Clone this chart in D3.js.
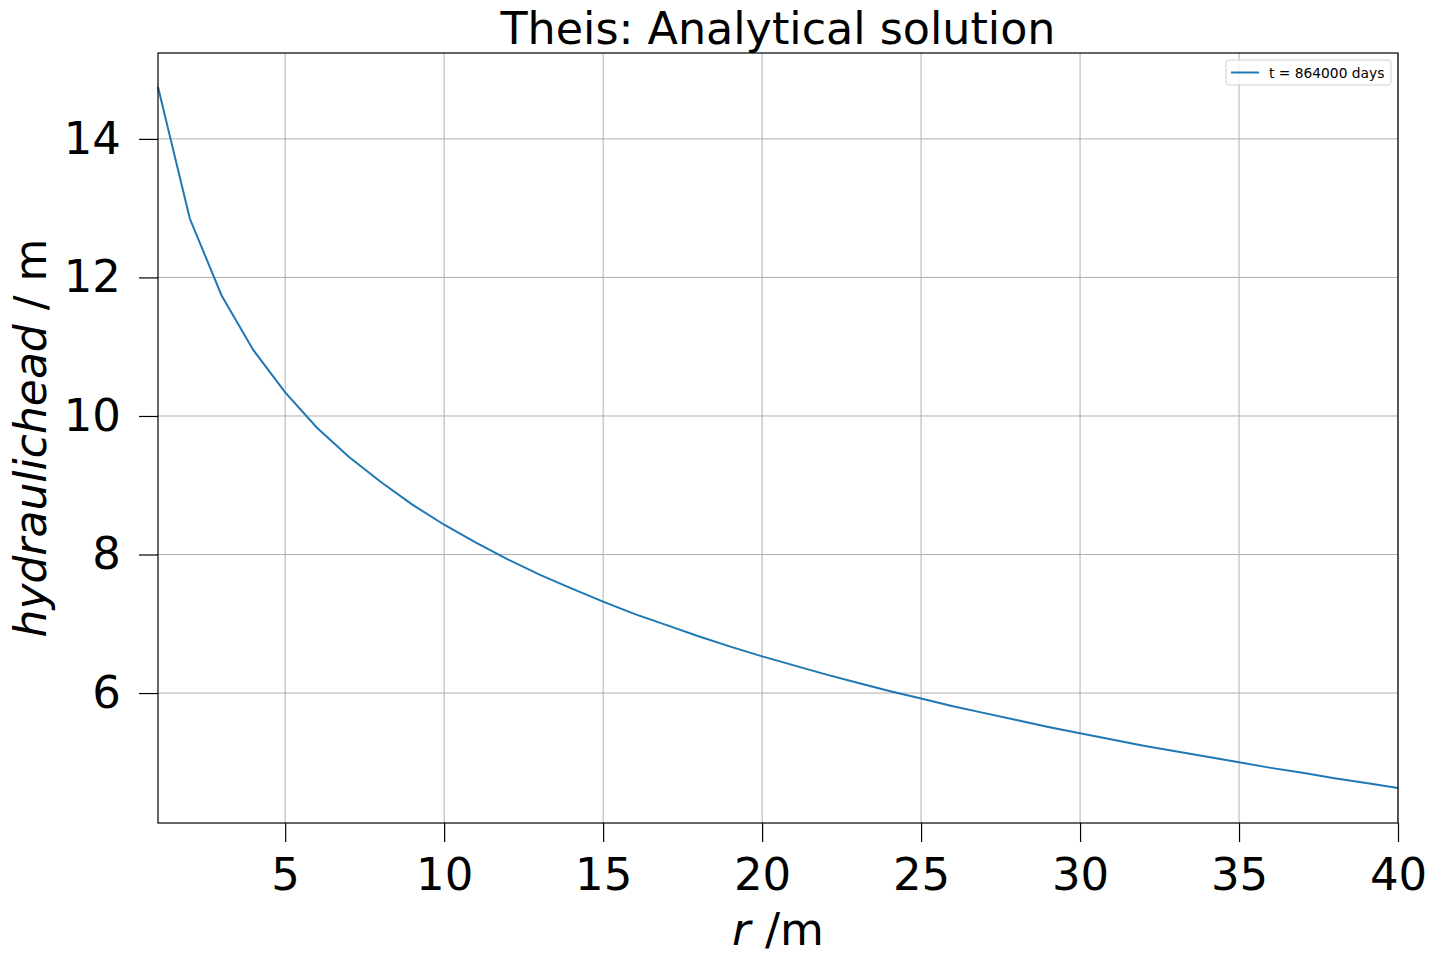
<!DOCTYPE html>
<html><head><meta charset="utf-8">
<script src="https://cdn.jsdelivr.net/npm/d3@7"></script>
<style>body{margin:0;background:#fff;} text{font-family:"DejaVu Sans",sans-serif;}</style>
</head><body>
<svg id="c" width="1436" height="963"></svg>
<script>
const radius = [1,2,3,4,5,6,7,8,9,10,11,12,13,14,15,16,17,18,19,20,21,22,23,24,25,26,27,28,29,30,31,32,33,34,35,36,37,38,39,40];
const head = [14.75,12.85,11.74,10.95,10.34,9.83,9.41,9.05,8.72,8.43,8.17,7.93,7.71,7.51,7.32,7.14,6.98,6.82,6.67,6.53,6.40,6.27,6.15,6.03,5.92,5.81,5.71,5.61,5.51,5.42,5.33,5.24,5.16,5.08,5.00,4.92,4.85,4.77,4.70,4.63];
const xTicks = [5,10,15,20,25,30,35,40];
const yTicks = [6,8,10,12,14];
const seriesLabel = "t = 864000 days";

const svg = d3.select("#c");
const L=158, R=1398, T=53, B=823;
const x = d3.scaleLinear().domain([1,40]).range([L,R]);
const y = d3.scaleLinear().domain([4.124,15.24]).range([B,T]);

// grid
svg.append("g").selectAll("line").data(xTicks).join("line")
  .attr("x1",d=>x(d)).attr("x2",d=>x(d)).attr("y1",T).attr("y2",B)
  .attr("stroke","#b0b0b0").attr("stroke-width",1);
svg.append("g").selectAll("line").data(yTicks).join("line")
  .attr("y1",d=>y(d)).attr("y2",d=>y(d)).attr("x1",L).attr("x2",R)
  .attr("stroke","#b0b0b0").attr("stroke-width",1);

// line
svg.append("path").datum(radius.map((r,i)=>[r,head[i]]))
  .attr("d",d3.line().x(d=>x(d[0])).y(d=>y(d[1])))
  .attr("fill","none").attr("stroke","#1f77b4").attr("stroke-width",2);

// axes
const xa = svg.append("g").attr("transform",`translate(0,${B})`)
  .call(d3.axisBottom(x).tickValues(xTicks).tickSize(19).tickPadding(16).tickFormat(d3.format("d")));
const ya = svg.append("g").attr("transform",`translate(${L},0)`)
  .call(d3.axisLeft(y).tickValues(yTicks).tickSize(19).tickPadding(18).tickFormat(d3.format("d")));
[xa,ya].forEach(a=>{
  a.select(".domain").remove();
  a.selectAll("line").attr("stroke","#000").attr("stroke-width",1.2);
  a.selectAll("text").attr("font-size",45).attr("fill","#000").style("font-family","DejaVu Sans");
});

// frame
svg.append("rect").attr("x",L).attr("y",T).attr("width",R-L).attr("height",B-T)
  .attr("fill","none").attr("stroke","#000").attr("stroke-width",1.2);

// title
svg.append("text").attr("x",(L+R)/2).attr("y",44).attr("text-anchor","middle")
  .attr("font-size",44.4).text("Theis: Analytical solution");

// x label
const xl = svg.append("text").attr("x",(L+R)/2).attr("y",945).attr("text-anchor","middle").attr("font-size",45);
xl.append("tspan").attr("font-style","italic").text("r");
xl.append("tspan").text(" /m");

// y label
const yl = svg.append("text").attr("transform",`translate(46,${(T+B)/2}) rotate(-90)`).attr("text-anchor","middle").attr("font-size",44);
yl.append("tspan").attr("font-style","italic").text("hydraulichead");
yl.append("tspan").text(" / m");

// legend
const lg = svg.append("g").attr("transform","translate(1226,60)");
lg.append("rect").attr("width",165).attr("height",25).attr("rx",3)
  .attr("fill","#fff").attr("fill-opacity",0.8).attr("stroke","#d0d0d0");
lg.append("line").attr("x1",5).attr("x2",33).attr("y1",12.5).attr("y2",12.5)
  .attr("stroke","#1f77b4").attr("stroke-width",2);
lg.append("text").attr("x",43).attr("y",17.5).attr("font-size",13.8).text(seriesLabel);
</script>
</body></html>
